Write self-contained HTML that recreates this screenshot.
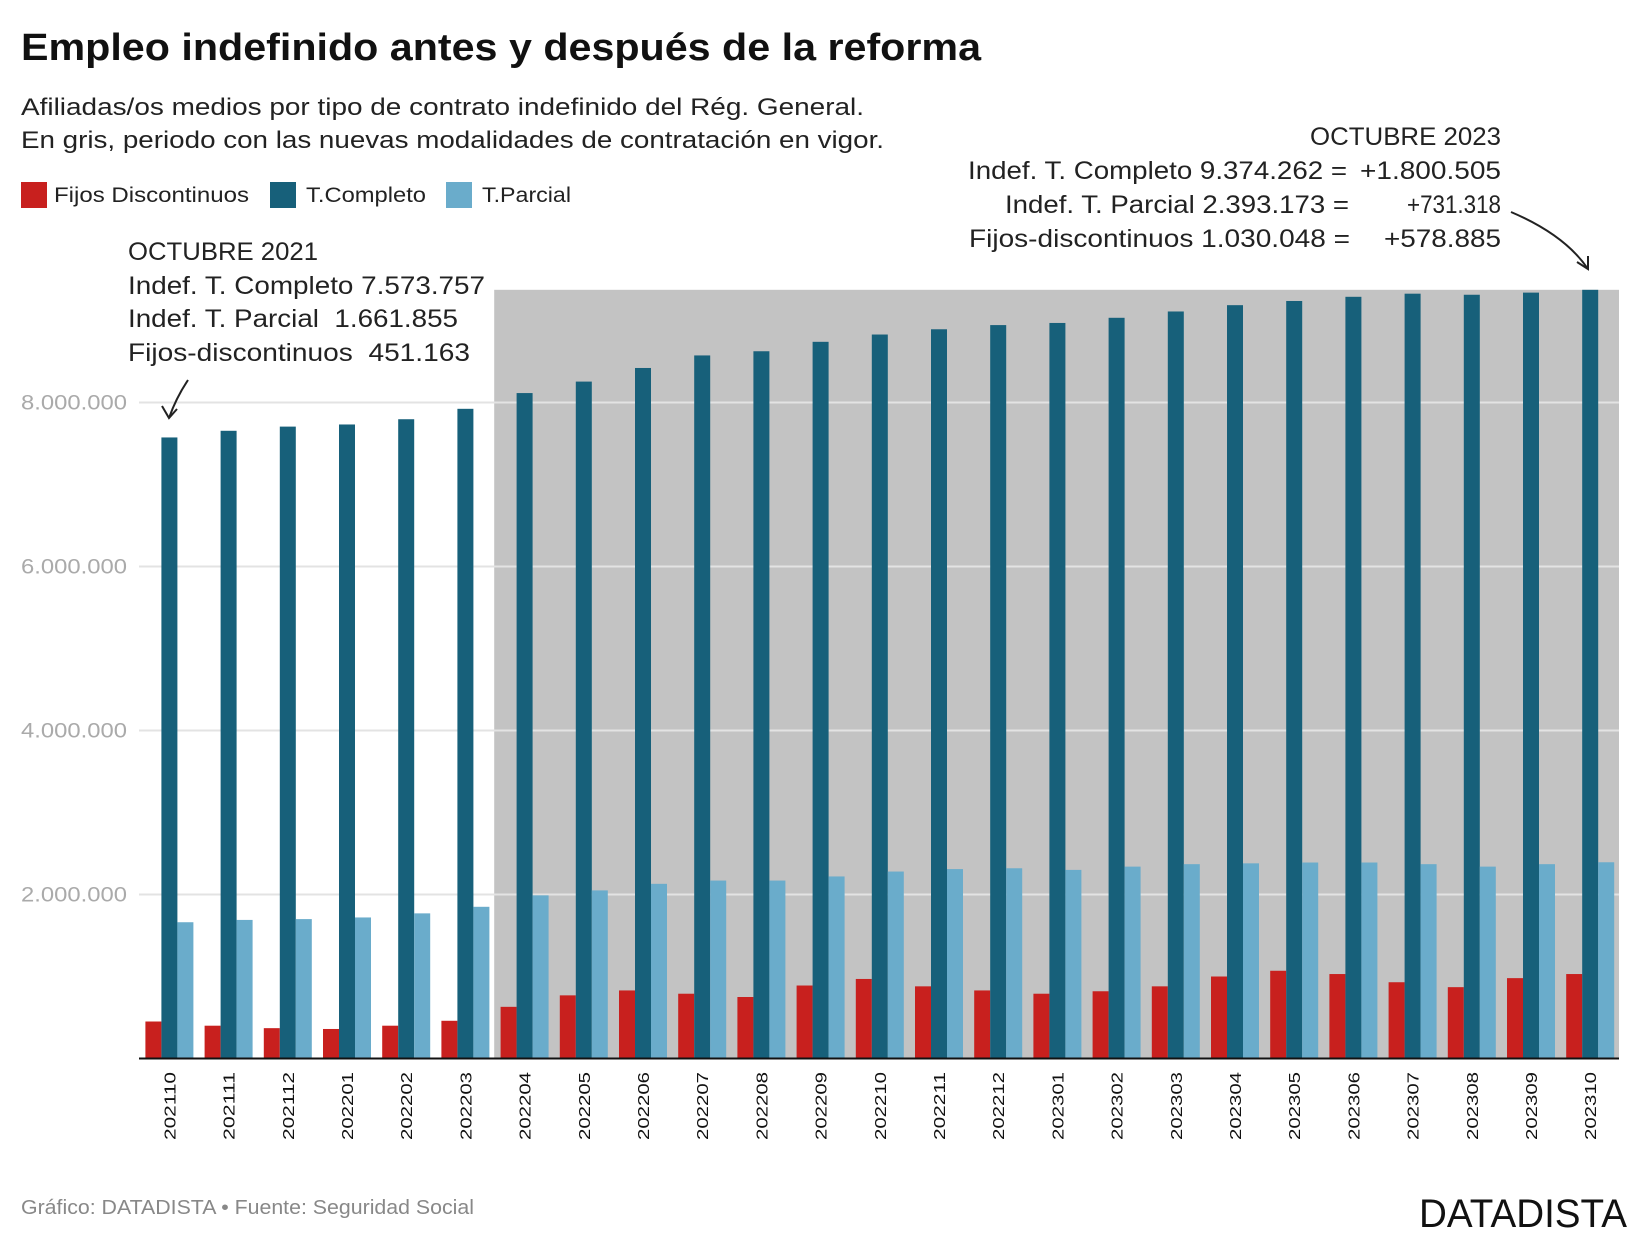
<!DOCTYPE html>
<html><head><meta charset="utf-8">
<style>
body{margin:0;background:#fff;}
svg{display:block;font-family:"Liberation Sans",Arial,sans-serif;}
</style></head>
<body>
<svg id="chart" width="1640" height="1240" viewBox="0 0 1640 1240">
<text x="21" y="60" font-size="38" font-weight="bold" fill="#111" textLength="960" lengthAdjust="spacingAndGlyphs">Empleo indefinido antes y después de la reforma</text>
<text x="21" y="115" font-size="24" fill="#222" textLength="843" lengthAdjust="spacingAndGlyphs">Afiliadas/os medios por tipo de contrato indefinido del Rég. General.</text>
<text x="21" y="148" font-size="24" fill="#222" textLength="863" lengthAdjust="spacingAndGlyphs">En gris, periodo con las nuevas modalidades de contratación en vigor.</text>
<g>
<rect x="21" y="182" width="26" height="26" fill="#c8201e"/>
<text x="54" y="202" font-size="21" fill="#222" textLength="195" lengthAdjust="spacingAndGlyphs">Fijos Discontinuos</text>
<rect x="270" y="182" width="26" height="26" fill="#17607a"/>
<text x="306" y="202" font-size="21" fill="#222" textLength="120" lengthAdjust="spacingAndGlyphs">T.Completo</text>
<rect x="446" y="182" width="26" height="26" fill="#6aaccb"/>
<text x="482" y="202" font-size="21" fill="#222" textLength="89" lengthAdjust="spacingAndGlyphs">T.Parcial</text>
</g>
<g id="plot"></g>
<g font-size="25" fill="#222" lengthAdjust="spacingAndGlyphs">
<text x="128" y="260" textLength="190" lengthAdjust="spacingAndGlyphs">OCTUBRE 2021</text>
<text x="128" y="294" textLength="357" lengthAdjust="spacingAndGlyphs">Indef. T. Completo 7.573.757</text>
<text x="128" y="327" textLength="330" lengthAdjust="spacingAndGlyphs">Indef. T. Parcial&#160; 1.661.855</text>
<text x="128" y="361" textLength="342" lengthAdjust="spacingAndGlyphs">Fijos-discontinuos&#160; 451.163</text>
</g>
<path d="M188,380 Q176,398 169,418" fill="none" stroke="#222" stroke-width="2"/>
<path d="M162,406 L169,418 L177,409" fill="none" stroke="#222" stroke-width="2"/>
<g font-size="25" fill="#222">
<text x="1310" y="145" textLength="191" lengthAdjust="spacingAndGlyphs">OCTUBRE 2023</text>
<text x="968" y="179" textLength="379" lengthAdjust="spacingAndGlyphs">Indef. T. Completo 9.374.262 =</text>
<text x="1360" y="179" textLength="141" lengthAdjust="spacingAndGlyphs">+1.800.505</text>
<text x="1005" y="213" textLength="344" lengthAdjust="spacingAndGlyphs">Indef. T. Parcial 2.393.173 =</text>
<text x="1407" y="213" textLength="94" lengthAdjust="spacingAndGlyphs">+731.318</text>
<text x="969" y="247" textLength="381" lengthAdjust="spacingAndGlyphs">Fijos-discontinuos 1.030.048 =</text>
<text x="1384" y="247" textLength="117" lengthAdjust="spacingAndGlyphs">+578.885</text>
</g>
<path d="M1511,212 Q1565,235 1588,269" fill="none" stroke="#222" stroke-width="2"/>
<path d="M1577,262 L1588,269 L1588,256" fill="none" stroke="#222" stroke-width="2"/>
<text x="21" y="1214" font-size="20" fill="#888" textLength="453" lengthAdjust="spacingAndGlyphs">Gráfico: DATADISTA • Fuente: Seguridad Social</text>
<text x="1419" y="1227" font-size="40" fill="#111" textLength="208" lengthAdjust="spacingAndGlyphs">DATADISTA</text>
</svg>
<script>
const categories=["202110","202111","202112","202201","202202","202203","202204","202205","202206","202207","202208","202209","202210","202211","202212","202301","202302","202303","202304","202305","202306","202307","202308","202309","202310"];
const fijos=[451163,400000,370000,360000,400000,460000,630000,770000,830000,790000,750000,890000,970000,880000,830000,790000,820000,880000,1000000,1070000,1030000,930000,870000,980000,1030048];
const completo=[7573757,7655000,7706000,7732000,7796000,7923000,8115000,8255000,8421000,8574000,8625000,8740000,8829000,8893000,8944000,8970000,9033000,9110000,9187000,9238000,9289000,9327000,9314000,9340000,9374262];
const parcial=[1661855,1690000,1700000,1720000,1770000,1850000,1990000,2050000,2130000,2170000,2170000,2220000,2280000,2310000,2320000,2300000,2340000,2370000,2380000,2390000,2390000,2370000,2340000,2370000,2393173];
const yTicks=[2000000,4000000,6000000,8000000];
const yTickLabels=["2.000.000","4.000.000","6.000.000","8.000.000"];
const reformStart="202204";

const NS="http://www.w3.org/2000/svg";
const plot=document.getElementById('plot');
const baseY=1058.5, pxPerUnit=82/1000000, left=145.4, step=59.2, barW=16, plotL=139, plotR=1619;
function y(v){return baseY-v*pxPerUnit;}
function xg(i){return left+i*step;}
function mk(tag,attrs){const e=document.createElementNS(NS,tag);for(const k in attrs)e.setAttribute(k,attrs[k]);plot.appendChild(e);return e;}

const ri=categories.indexOf(reformStart);
const maxV=Math.max(...completo);
const shade=mk('rect',{x:xg(ri)-6.4,y:y(maxV),width:plotR-(xg(ri)-6.4),height:baseY-y(maxV),fill:'#c3c3c3'});



yTicks.forEach((t,i)=>{
  const g=mk('line',{x1:plotL,x2:plotR,y1:y(t),y2:y(t),stroke:'#e3e3e3','stroke-width':2});
  
  
  const tl=mk('text',{x:21,y:y(t)+7,'font-size':21,fill:'#aaa',textLength:106,lengthAdjust:'spacingAndGlyphs'});
  tl.textContent=yTickLabels[i];
  
  
});

categories.forEach((c,i)=>{
  const x0=xg(i);
  const b1=mk('rect',{x:x0,y:y(fijos[i]),width:barW,height:baseY-y(fijos[i]),fill:'#c8201e'});
  
  
  const b2=mk('rect',{x:x0+barW,y:y(completo[i]),width:barW,height:baseY-y(completo[i]),fill:'#17607a'});
  
  
  const b3=mk('rect',{x:x0+2*barW,y:y(parcial[i]),width:barW,height:baseY-y(parcial[i]),fill:'#6aaccb'});
  
  
  const cx=x0+barW*1.5+6;
  const lab=mk('text',{x:0,y:0,'font-size':16,fill:'#111',textLength:68,lengthAdjust:'spacingAndGlyphs',transform:`translate(${cx},1140) rotate(-90)`});
  lab.textContent=c;
  
  
});
const ax=mk('line',{x1:plotL,x2:plotR,y1:baseY,y2:baseY,stroke:'#111','stroke-width':2});


</script>
</body></html>
